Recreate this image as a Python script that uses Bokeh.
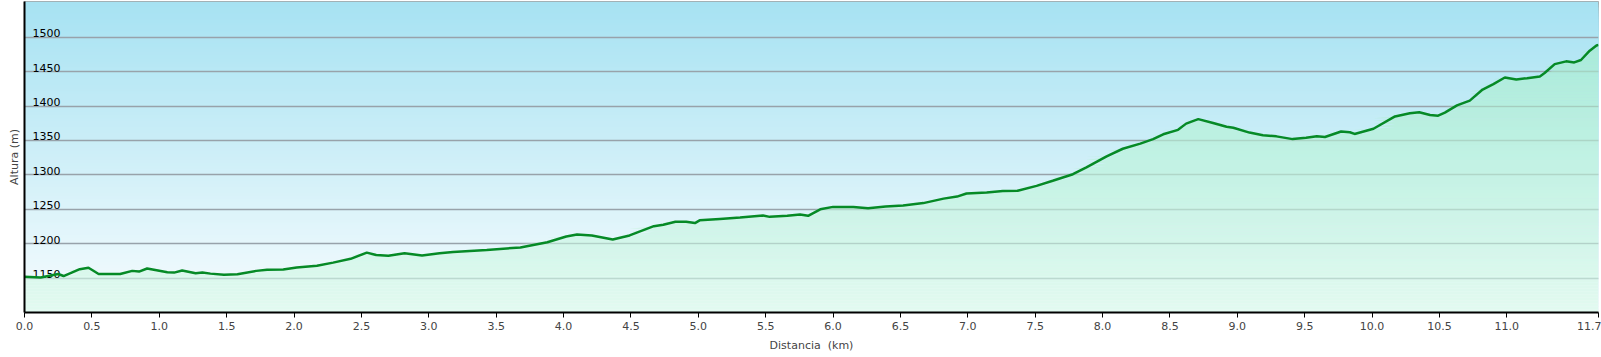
import numpy as np
from bokeh.plotting import figure
from bokeh.models import FixedTicker, Range1d
from bokeh.core.properties import value
from bokeh.embed import file_html
from bokeh.resources import INLINE

# ---- data ----
distance_km = [
    0.00, 0.12, 0.25, 0.29, 0.41, 0.475, 0.55, 0.71, 0.80, 0.85, 0.91, 1.06, 1.11, 1.17,
    1.27, 1.32, 1.38, 1.48, 1.58, 1.72, 1.80, 1.92, 2.02, 2.17, 2.29, 2.42, 2.54, 2.61,
    2.70, 2.82, 2.95, 3.08, 3.18, 3.43, 3.68, 3.88, 4.02, 4.10, 4.21, 4.365, 4.49, 4.67,
    4.74, 4.83, 4.91, 4.975, 5.01, 5.16, 5.31, 5.48, 5.53, 5.66, 5.755, 5.815, 5.905, 6.00,
    6.15, 6.26, 6.39, 6.52, 6.67, 6.82, 6.92, 6.99, 7.14, 7.26, 7.37, 7.51, 7.63, 7.78,
    7.88, 8.03, 8.15, 8.28, 8.375, 8.45, 8.56, 8.62, 8.71, 8.82, 8.92, 8.97, 9.09, 9.19,
    9.29, 9.41, 9.51, 9.59, 9.65, 9.77, 9.835, 9.87, 10.01, 10.17, 10.28, 10.35, 10.43,
    10.49, 10.54, 10.63, 10.725, 10.82, 10.90, 10.985, 11.07, 11.15, 11.245, 11.28, 11.355,
    11.44, 11.50, 11.55, 11.615, 11.665, 11.68,
]
elevation_m = [
    1152, 1151, 1156, 1153, 1163, 1165, 1156, 1156, 1160.5, 1159.5, 1164, 1158.5, 1158, 1161,
    1157, 1158, 1156.5, 1155, 1155.5, 1160.5, 1162, 1162.5, 1165.5, 1168, 1172.5, 1178, 1187, 1183.5,
    1182.5, 1186, 1183, 1186, 1188, 1191, 1194.5, 1202, 1210.5, 1213.5, 1212, 1206, 1212, 1225.5,
    1227.5, 1232, 1232, 1230, 1234, 1236, 1238, 1241, 1239, 1240.5, 1242.5, 1240.5, 1250, 1253.5,
    1253.5, 1251.5, 1254, 1255.5, 1259, 1265.5, 1268.5, 1273, 1274.5, 1276.5, 1277, 1284, 1291.5, 1301,
    1311, 1327, 1338, 1345.5, 1352, 1359, 1365.5, 1374.5, 1381, 1375.5, 1370, 1368.5, 1361.5, 1357.5,
    1356, 1352, 1354, 1356, 1355, 1363, 1362, 1359.5, 1367, 1385, 1389.5, 1391, 1387,
    1386, 1390.5, 1401, 1408, 1424, 1432, 1441.5, 1438.5, 1440.5, 1443, 1448, 1461,
    1465, 1463.5, 1467, 1480.5, 1488, 1489,
]
y_ticks = [1150, 1200, 1250, 1300, 1350, 1400, 1450, 1500]
y_tick_labels = ["1150", "1200", "1250", "1300", "1350", "1400", "1450", "1500"]
x_ticks = [0.0, 0.5, 1.0, 1.5, 2.0, 2.5, 3.0, 3.5, 4.0, 4.5, 5.0, 5.5, 6.0, 6.5, 7.0,
           7.5, 8.0, 8.5, 9.0, 9.5, 10.0, 10.5, 11.0, 11.68]
x_tick_labels = ["0.0", "0.5", "1.0", "1.5", "2.0", "2.5", "3.0", "3.5", "4.0", "4.5",
                 "5.0", "5.5", "6.0", "6.5", "7.0", "7.5", "8.0", "8.5", "9.0", "9.5",
                 "10.0", "10.5", "11.0", "11.7"]

X_MIN, X_MAX = 0.0, 11.68
Y_MIN, Y_MAX = 1100, 1552
FONT = "DejaVu Sans"

x = np.array(distance_km)
elev = np.array(elevation_m, dtype=float)

p = figure(width=1601, height=357, output_backend="svg", toolbar_location=None,
           x_range=Range1d(X_MIN, X_MAX), y_range=Range1d(Y_MIN, Y_MAX),
           min_border_left=24, min_border_right=3, min_border_top=1, min_border_bottom=45)
p.background_fill_color = "white"
p.border_fill_color = "white"
p.outline_line_color = "#a0a0a0"
p.outline_line_width = 1

# ---- background gradient (sky) ----
blue_top = np.array([166, 226, 242])
blue_bot = np.array([247, 252, 254])
green_top = np.array([160, 232, 214])
green_bot = np.array([226, 250, 240])

def hexc(c):
    c = np.clip(np.round(c), 0, 255).astype(int)
    return "#%02x%02x%02x" % tuple(c)

n_bands = 104
levels = np.linspace(Y_MIN, Y_MAX, n_bands + 1)
# paint from top down, each rect from bottom to its top: last drawn wins -> no seams
for k in range(n_bands - 1, -1, -1):
    f = (levels[k + 1] + levels[k]) / 2
    t = (f - Y_MIN) / (Y_MAX - Y_MIN)
    col = blue_bot + (blue_top - blue_bot) * t
    r = p.quad(left=[X_MIN], right=[X_MAX], bottom=[Y_MIN], top=[levels[k + 1]],
               fill_color=hexc(col), line_color=None)
    r.level = "image"

# ---- area under the profile (green gradient, semi-transparent) ----
A = 0.65
for k in range(n_bands):
    lo, hi = levels[k], levels[k + 1]
    if lo >= elev.max():
        break
    t = ((lo + hi) / 2 - Y_MIN) / (Y_MAX - Y_MIN)
    bg = blue_bot + (blue_top - blue_bot) * t
    tgt = green_bot + (green_top - green_bot) * t
    fill = (tgt - (1 - A) * bg) / A
    p.varea(x=x, y1=lo, y2=np.clip(elev, lo, hi), fill_color=hexc(fill), fill_alpha=A)

# ---- y tick labels drawn inside the plot, above each grid line ----
p.text(x=[X_MIN] * len(y_ticks), y=y_ticks, text=y_tick_labels, x_offset=8, y_offset=-4,
       text_align="left", text_baseline="alphabetic", text_font=value(FONT),
       text_font_size="11px", text_color="#000000")

# ---- profile line ----
p.line(x, elev, line_color="#068a26", line_width=2.5)

# ---- grid ----
p.xgrid.visible = False
p.ygrid.ticker = FixedTicker(ticks=y_ticks)
p.ygrid.grid_line_color = "#98a2aa"
p.ygrid.grid_line_width = 1.5

# ---- axes ----
xa = p.xaxis[0]
xa.ticker = FixedTicker(ticks=x_ticks)
xa.major_label_overrides = {t: l for t, l in zip(x_ticks, x_tick_labels)}
xa.axis_label = "Distancia\u00a0 (km)"
xa.axis_label_text_font = FONT
xa.axis_label_text_font_size = "11px"
xa.axis_label_text_font_style = "normal"
xa.axis_label_standoff = 6
xa.major_label_text_font = FONT
xa.major_label_text_font_size = "11px"
xa.major_label_standoff = 4
xa.major_tick_out = 5
xa.major_tick_in = 0
xa.minor_tick_out = 0
xa.minor_tick_in = 0
xa.axis_line_width = 2
xa.axis_line_color = "#000000"
xa.major_tick_line_color = "#000000"

ya = p.yaxis[0]
ya.ticker = FixedTicker(ticks=[])
ya.axis_label = "Altura (m)"
ya.axis_label_text_font = FONT
ya.axis_label_text_font_size = "11px"
ya.axis_label_text_font_style = "normal"
ya.axis_label_standoff = 4
ya.major_tick_out = 0
ya.major_tick_in = 0
ya.minor_tick_out = 0
ya.minor_tick_in = 0
ya.axis_line_width = 2
ya.axis_line_color = "#000000"

open("out.html", "w").write(file_html(p, INLINE))
